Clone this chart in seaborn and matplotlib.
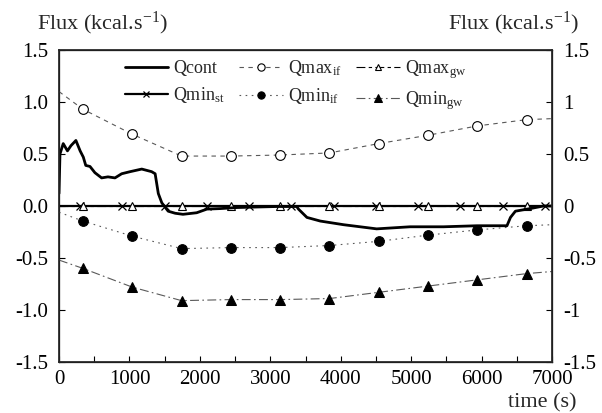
import numpy as np
import pandas as pd
import matplotlib
matplotlib.use("Agg")
import matplotlib.pyplot as plt
import seaborn as sns
from matplotlib.ticker import MultipleLocator, FixedLocator, FixedFormatter

sns.set_theme(style="white")
plt.rcParams["font.family"] = ["Liberation Serif", "DejaVu Serif"]
plt.rcParams["mathtext.fontset"] = "custom"
plt.rcParams["mathtext.rm"] = "Liberation Serif"
plt.rcParams["mathtext.it"] = "Liberation Serif:italic"
plt.rcParams["axes.unicode_minus"] = False

# measured heat flux (continuous)
qcont_t = [0, 14, 60, 120, 170, 240, 300, 345, 380, 440, 510, 605, 695, 795, 890,
           1010, 1175, 1315, 1365, 1410, 1460, 1550, 1650, 1760, 1955, 2100, 2290,
           2525, 2800, 3100, 3375, 3400, 3520, 3710, 4040, 4510, 4985, 5460, 5935,
           6360, 6410, 6480, 6690, 6880, 7000]
qcont_v = [0.12, 0.50, 0.60, 0.53, 0.58, 0.63, 0.53, 0.47, 0.39, 0.38, 0.32, 0.27,
           0.28, 0.27, 0.31, 0.33, 0.355, 0.33, 0.31, 0.12, 0.03, -0.05, -0.07,
           -0.08, -0.065, -0.03, -0.025, -0.015, -0.01, -0.005, -0.005, -0.03, -0.11,
           -0.145, -0.18, -0.22, -0.20, -0.20, -0.19, -0.19, -0.11, -0.05, -0.025,
           0.0, 0.0]

# infiltration / ground-water bounds (curve ends + sampled points)
bound_t = [0, 340, 1040, 1740, 2440, 3140, 3840, 4540, 5240, 5940, 6640, 7000]
qmax_if = [1.10, 0.93, 0.69, 0.48, 0.48, 0.49, 0.51, 0.60, 0.68, 0.77, 0.83, 0.84]
qmin_if = [-0.06, -0.145, -0.29, -0.41, -0.40, -0.40, -0.38, -0.34, -0.28, -0.23, -0.19, -0.18]
qmin_gw = [-0.52, -0.60, -0.78, -0.91, -0.90, -0.90, -0.89, -0.83, -0.77, -0.71, -0.65, -0.63]
qmax_gw = [0.0, 0.0, 0.0, 0.0, 0.0, 0.0, 0.0, 0.0, 0.0, 0.0, 0.0, 0.0]

# storage bound
st_t = [0, 300, 900, 1500, 2100, 2700, 3300, 3900, 4500, 5100, 5700, 6300, 6900, 7000]
qmin_st = [0.0] * len(st_t)

x_ticks = [0, 1000, 2000, 3000, 4000, 5000, 6000, 7000]
y_ticks = [1.5, 1.0, 0.5, 0.0, -0.5, -1.0, -1.5]
y_left_labels = ["1.5", "1.0", "0.5", "0.0", "-0.5", "-1.0", "-1.5"]
y_right_labels = ["1.5", "1", "0.5", "0", "-0.5", "-1", "-1.5"]

fig = plt.figure(figsize=(6.02, 4.13), dpi=100)
ax = fig.add_axes([0.098, 0.1235, 0.819, 0.7555])

inner = slice(1, -1)
sns.lineplot(x=st_t, y=qmin_st, ax=ax, color="black", lw=1.6, marker="x",
             markersize=6, markeredgewidth=0.9, markeredgecolor="black",
             markevery=inner, label=r"Qmin$_{\mathrm{st}}$", zorder=3)
sns.lineplot(x=bound_t, y=qmax_gw, ax=ax, color="black", lw=0.8,
             linestyle=(0, (8, 3, 3, 3)), marker="^", markersize=6,
             markerfacecolor="white", markeredgecolor="black", markeredgewidth=0.8,
             markevery=inner, label=r"Qmax$_{\mathrm{gw}}$", zorder=3)
sns.lineplot(x=qcont_t, y=qcont_v, ax=ax, color="black", lw=2.0,
             label="Qcont", zorder=4)
sns.lineplot(x=bound_t, y=qmax_if, ax=ax, color="0.35", lw=0.8,
             linestyle=(0, (4, 4)), marker="o", markersize=7,
             markerfacecolor="white", markeredgecolor="black", markeredgewidth=0.8,
             markevery=inner, label=r"Qmax$_{\mathrm{if}}$", zorder=3)
sns.lineplot(x=bound_t, y=qmin_if, ax=ax, color="0.35", lw=0.8,
             linestyle=(0, (1.5, 4)), marker="o", markersize=7,
             markerfacecolor="black", markeredgecolor="black",
             markevery=inner, label=r"Qmin$_{\mathrm{if}}$", zorder=3)
sns.lineplot(x=bound_t, y=qmin_gw, ax=ax, color="0.35", lw=0.8,
             linestyle=(0, (8, 3, 1.5, 3)), marker="^", markersize=7,
             markerfacecolor="black", markeredgecolor="black",
             markevery=inner, label=r"Qmin$_{\mathrm{gw}}$", zorder=3)

ax.set_xlim(0, 7000)
ax.set_ylim(-1.5, 1.5)
ax.set_xlabel("")
ax.set_ylabel("")
ax.xaxis.set_major_locator(FixedLocator(x_ticks))
ax.xaxis.set_minor_locator(MultipleLocator(500))
ax.yaxis.set_major_locator(FixedLocator(y_ticks))
ax.yaxis.set_major_formatter(FixedFormatter(y_left_labels))
ax.tick_params(axis="both", which="both", direction="in", labelsize=15,
               colors="black", bottom=True, left=True, length=4, width=0.8)
ax.tick_params(axis="x", which="major", pad=6)
ax.tick_params(axis="y", which="major", pad=8)
for s in ax.spines.values():
    s.set_color("black")
    s.set_linewidth(0.9)

ax2 = ax.twinx()
ax2.set_ylim(-1.5, 1.5)
ax2.yaxis.set_major_locator(FixedLocator(y_ticks))
ax2.yaxis.set_major_formatter(FixedFormatter(y_right_labels))
ax2.tick_params(axis="y", direction="in", labelsize=15, colors="black",
                right=True, length=4, width=0.8, pad=8)
ax2.grid(False)
ax.grid(False)

# legend in two rows of three
handles, labels = ax.get_legend_handles_labels()
hmap = dict(zip(labels, handles))
# column-major ordering for ncol=3
col_order = ["Qcont", r"Qmin$_{\mathrm{st}}$",
             r"Qmax$_{\mathrm{if}}$", r"Qmin$_{\mathrm{if}}$",
             r"Qmax$_{\mathrm{gw}}$", r"Qmin$_{\mathrm{gw}}$"]
ax.legend([hmap[k] for k in col_order], col_order, ncol=3, frameon=False,
          loc="upper center", bbox_to_anchor=(0.48, 1.01), fontsize=13,
          handlelength=2.4, handletextpad=0.3, columnspacing=0.8,
          labelspacing=0.45, borderaxespad=0.2, markerscale=0.75)

fig.text(0.061, 0.944, r"Flux (kcal.s$^{\mathrm{-1}}$)", fontsize=16, ha="left", va="center")
fig.text(0.962, 0.944, r"Flux (kcal.s$^{\mathrm{-1}}$)", fontsize=16, ha="right", va="center")
fig.text(0.957, 0.025, "time (s)", fontsize=16, ha="right", va="center")

fig.savefig("out.png", dpi=100)
